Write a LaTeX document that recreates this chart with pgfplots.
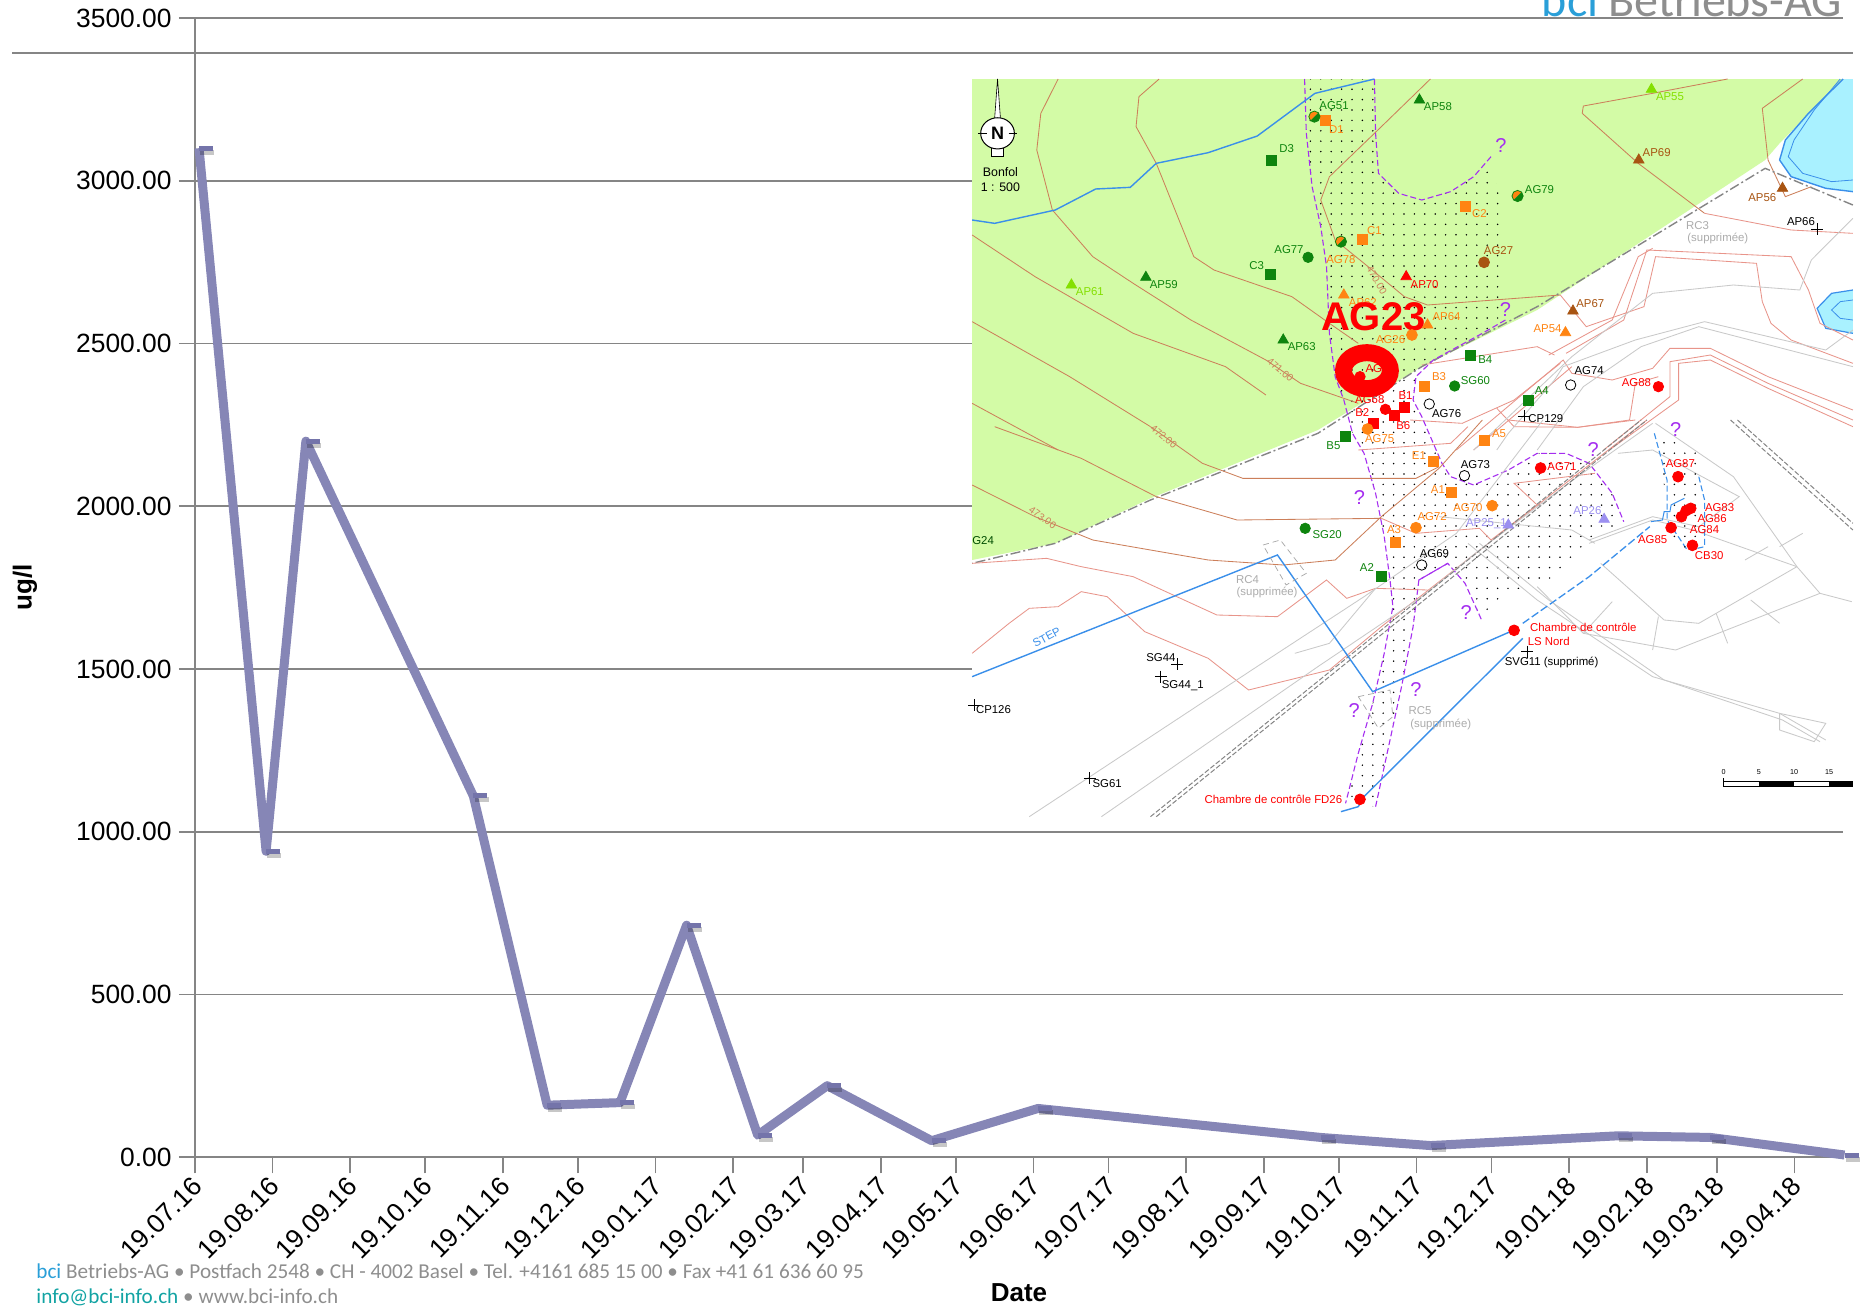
\documentclass[border=0pt]{standalone}
\usepackage{pgfplots}
\pgfplotsset{compat=1.18}
\usepackage{fontspec}
\setmainfont{Liberation Sans}
\newfontfamily\carlito{Carlito}
\usetikzlibrary{patterns.meta}
\definecolor{lin}{HTML}{8686B6}
\definecolor{lind}{HTML}{7474AA}
\definecolor{gr}{HTML}{858585}
\definecolor{grn}{HTML}{D3FBA6}
\definecolor{cb}{HTML}{CC7F5A}
\definecolor{sal}{HTML}{E8948A}
\definecolor{lg}{HTML}{C9C9C9}
\definecolor{bl}{HTML}{3A8FEA}
\definecolor{pu}{HTML}{A52EF0}
\definecolor{cy}{HTML}{A9F1FF}
\definecolor{dg}{HTML}{0E840E}
\definecolor{org}{HTML}{FF8412}
\definecolor{lgn}{HTML}{84E000}
\definecolor{bro}{HTML}{A85412}
\definecolor{lav}{HTML}{9C90F0}
\definecolor{bciblue}{HTML}{2A9FD8}
\definecolor{teal2}{HTML}{12A3A3}
\definecolor{foot}{HTML}{8E8E8E}
\pgfdeclareplotmark{rdash}{\pgfpathmoveto{\pgfqpoint{0pt}{0pt}}\pgfpathlineto{\pgfqpoint{7pt}{0pt}}\pgfusepathqstroke}
\newcommand{\ml}[4]{\node[text=#3,inner sep=0pt,font=\fontsize{5.7}{6}\selectfont] at (axis cs:#1,#2) {#4};}
\newcommand{\qm}[2]{\node[text=pu,inner sep=0pt,font=\fontsize{10}{10}\selectfont] at (axis cs:#1,#2) {?};}
\pgfplotsset{mapaxis/.style={at={(0pt,0pt)},anchor=south west,scale only axis,width=932.5pt,height=653pt,hide axis,clip=false,y dir=reverse,xmin=-1663.3,xmax=1568},
 sm/.style={only marks,mark=#1,mark size=2.1pt,mark options={solid}},
 cont/.style={cb,line width=.42pt,no markers},
 salm/.style={sal,line width=.42pt,no markers},
 lgr/.style={lg,line width=.42pt,no markers},
 pd/.style={pu,line width=.55pt,dash pattern=on 3pt off 1.5pt,no markers},
 blu/.style={bl,line width=.7pt,no markers}}
\begin{document}
\begin{tikzpicture}[x=1pt,y=1pt]
\useasboundingbox (0,0) rectangle (932.5,653);
\begin{axis}[at={(97.5pt,74.35pt)},anchor=south west,scale only axis,width=824pt,height=569.65pt,
 xmin=0,xmax=658.4,ymin=0,ymax=3500,clip=false,
 axis x line=bottom,axis y line=left,axis line style={-,gr,line width=.8pt},
 ytick={0,500,1000,1500,2000,2500,3000,3500},
 ymajorgrids,grid style={gr,line width=.8pt},
 xtick={0,31,62,92,123,153,184,215,243,274,304,335,365,396,427,457,488,518,549,580,608,639},
 xticklabels={19.07.16,19.08.16,19.09.16,19.10.16,19.11.16,19.12.16,19.01.17,19.02.17,19.03.17,19.04.17,19.05.17,19.06.17,19.07.17,19.08.17,19.09.17,19.10.17,19.11.17,19.12.17,19.01.18,19.02.18,19.03.18,19.04.18},
 major tick length=8pt,tick style={gr,line width=.8pt},
 every tick/.style={gr,line width=.8pt},
 tick align=outside,
 y tick label style={/pgf/number format/.cd,fixed,fixed zerofill,precision=2,1000 sep={},assume math mode=true,/tikz/.cd,font=\fontsize{13.2}{15}\selectfont,inner sep=0pt,xshift=-3.5pt},
 x tick label style={rotate=45,anchor=north east,font=\fontsize{13.2}{15}\selectfont,inner sep=0pt,yshift=1pt,xshift=-2pt},
 xlabel={\textbf{Date}},
 ylabel={\textbf{ug/l}},
 every axis x label/.style={at={(axis description cs:0.5,0)},anchor=center,yshift=-67.5pt,font=\fontsize{13}{15}\selectfont},
 every axis y label/.style={at={(axis description cs:0,0.5)},anchor=center,rotate=90,yshift=85pt,font=\fontsize{13}{15}\selectfont},
 ]
\addplot[only marks,mark=rdash,mark options={line width=2.5pt,black,opacity=.22},yshift=-2pt,xshift=.6pt,forget plot] table {
1.6 3100
28.4 940
44.3 2200
111.2 1110
140.7 160
169.8 168
196.4 713
224.8 68
252.6 220
294.3 51
336.8 150
449.7 61
493.6 36
568.5 66
605.4 61
659 7
};
\addplot[lin,line width=4.5pt,line join=round,no markers] table {
1.6 3100
28.4 940
44.3 2200
111.2 1110
140.7 160
169.8 168
196.4 713
224.8 68
252.6 220
294.3 51
336.8 150
449.7 61
493.6 36
568.5 66
605.4 61
659 7
};
\addplot[only marks,mark=rdash,mark options={line width=2.5pt,lind}] table {
1.6 3100
28.4 940
44.3 2200
111.2 1110
140.7 160
169.8 168
196.4 713
224.8 68
252.6 220
294.3 51
336.8 150
449.7 61
493.6 36
568.5 66
605.4 61
659 7
};
\end{axis}
% map, first system: crop coordinates of the upper part
\begin{axis}[mapaxis,ymin=0,ymax=3918]
\addplot[fill=white,draw=none] coordinates {(21,237)(1547,237)(1547,2450)(21,2450)} --cycle;
\addplot[fill=grn,draw=none] coordinates {(21,237)(1530,237)(1420,430)(1395,480)(1000,930)(800,1100)(620,1290)(330,1495)(165,1630)(21,1680)} --cycle;
\addplot[fill=cy,draw=none] coordinates {(1530,237)(1547,237)(1547,575)(1500,565)(1440,530)(1420,480)(1430,420)(1470,340)} --cycle;
\addplot[blu] coordinates {(1530,237)(1470,340)(1430,420)(1420,480)(1440,530)(1500,565)(1547,575)};
\addplot[blu,line width=.4pt] coordinates {(1525,237)(1480,330)(1445,420)(1435,470)(1460,520)(1510,545)(1547,540)};
\addplot[fill=cy,draw=bl,line width=.6pt] coordinates {(1547,870)(1510,880)(1485,925)(1500,985)(1547,1000)};
\addplot[fill=cy,draw=bl,line width=.4pt] coordinates {(1547,900)(1525,905)(1510,930)(1525,955)(1547,960)};
\addplot[pattern={Dots[distance=5.2pt,radius=.42pt]},draw=none] coordinates {(600,237)(718,237)(720,400)(725,520)(760,580)(800,600)(850,575)(890,530)(920,490)(945,640)(945,900)(940,960)(810,1095)(790,1140)(785,1200)(800,1250)(815,1310)(835,1390)(850,1430)(890,1455)(950,1410)(1000,1360)(1050,1360)(1090,1390)(1130,1480)(1150,1565)(1085,1630)(1030,1740)(960,1770)(905,1860)(875,1750)(845,1690)(795,1740)(785,1880)(765,2060)(740,2260)(720,2420)(668,2410)(690,2260)(715,2110)(735,1960)(750,1820)(745,1740)(735,1610)(720,1480)(700,1360)(680,1300)(665,1200)(650,1130)(640,1000)(635,800)(625,680)(610,560)(600,400)} --cycle;
\addplot[cont] coordinates {(170,237)(140,340)(133,450)(160,630)(230,770)(300,850)(400,960)(530,1080)(590,1150)(690,1210)};
\addplot[cont] coordinates {(345,237)(310,290)(305,380)(340,490)(405,770)(440,810)(575,890)(640,970)(690,1030)};
\addplot[cont] coordinates {(21,705)(130,830)(300,1000)(460,1100)(530,1185)};
\addplot[cont] coordinates {(21,965)(190,1130)(330,1280)};
\addplot[cont] coordinates {(21,1210)(170,1350)};
\addplot[cont] coordinates {(815,237)(730,380)(640,530)(625,600)(650,720)(700,790)(770,890)(810,915)(1040,885)};
\addplot[cont] coordinates {(1330,237)(1200,280)(1080,318)(1078,340)(1175,490)(1290,640)};
\addplot[cont] coordinates {(1460,237)(1390,325)(1400,480)(1430,590)(1475,560)};
\addplot[salm] coordinates {(1290,640)(1440,690)(1547,700)};
\addplot[salm] coordinates {(1040,885)(1085,980)(1185,920)(1205,770)(1380,790)(1390,905)(1405,970)(1440,1020)(1547,1090)};
\addplot[salm] coordinates {(1050,1060)(1150,960)(1190,750)(1440,770)(1470,870)(1490,970)(1547,1020)};
\addplot[salm] coordinates {(1020,1065)(1130,960)(1175,770)(1200,745)};
\addplot[salm] coordinates {(800,1095)(1000,1040)(1030,1065)};
\addplot[salm] coordinates {(860,1350)(1045,1080)(1060,1120)(1130,1140)(1200,1105)(1230,1045)(1300,1045)(1400,1130)(1547,1230)};
\addplot[salm] coordinates {(890,1350)(1060,1100)};
\addplot[salm] coordinates {(1115,1350)(1230,1190)(1230,1085)(1300,1065)(1400,1150)(1547,1260)};
\addplot[salm] coordinates {(1125,1350)(1245,1200)(1245,1090)(1300,1080)(1400,1165)(1547,1280)};
\addplot[salm] coordinates {(780,1260)(870,1270)(960,1200)(1040,1090)};
\addplot[salm] coordinates {(930,1225)(960,1280)(1070,1282)(1160,1260)(1170,1150)(1210,1130)};
\addplot[salm] coordinates {(690,1350)(850,1330)(880,1280)};
\addplot[lgr] coordinates {(1547,655)(1475,780)(1455,870)(1340,855)(1200,880)(1060,1070)(890,1350)};
\addplot[lgr] coordinates {(1547,990)(1500,1050)(1290,965)(1170,1020)(1045,1100)(1030,1140)(950,1300)(930,1350)};
\addplot[lgr] coordinates {(1547,1100)(1280,980)(1180,1040)(1080,1160)(1000,1350)};
\addplot[gr,line width=.7pt,dash pattern=on 5pt off 1.5pt on 1pt off 1.5pt,no markers] coordinates {(1547,615)(1395,505)(1000,920)(800,1100)(620,1300)(330,1500)(165,1630)(21,1690)};
\addplot[pd] coordinates {(597,237)(600,400)(610,560)(625,680)(635,800)(640,1000)(650,1130)(665,1200)(680,1300)(700,1360)(720,1480)(735,1610)(745,1740)(750,1820)(735,1960)(715,2110)(690,2260)(668,2410)};
\addplot[pd] coordinates {(718,237)(720,400)(725,520)(760,580)(800,600)(850,575)(890,530)(920,470)};
\addplot[pd] coordinates {(945,960)(905,1000)(820,1080)(790,1130)(785,1200)(800,1250)(815,1310)(835,1390)(850,1430)(890,1455)(950,1410)(1000,1360)(1050,1360)(1090,1390)(1130,1480)(1150,1565)};
\addplot[pd] coordinates {(720,2420)(740,2260)(765,2060)(785,1880)(795,1740)(845,1690)(875,1750)(905,1865)};
\addplot[blu] coordinates {(21,660)(60,670)(165,630)(235,567)(295,562)(340,490)(430,458)(515,408)(615,280)(718,237)};
% marks
\addplot[sm=square*,dg,mark size=2.5pt] coordinates {(540,480)(538,823)(885,1067)(984,1200)(668,1310)};
\addplot[sm=square*,org,mark size=2.5pt] coordinates {(633,360)(876,620)(698,718)(805,1160)(909,1322)};
\addplot[sm=square*,red,mark size=2.5pt] coordinates {(770,1222)(716,1270)(753,1245)};
\addplot[sm=triangle*,dg,mark size=3pt] coordinates {(796,300)(322,832)(560,1020)};
\addplot[sm=triangle*,lgn,mark size=3pt] coordinates {(1198,268)(193,855)};
\addplot[sm=triangle*,bro,mark size=3pt] coordinates {(1176,480)(1425,565)(1062,933)};
\addplot[sm=triangle*,org,mark size=3pt] coordinates {(1049,998)(810,975)(665,885)};
\addplot[sm=triangle*,red,mark size=3pt] coordinates {(773,830)};
\addplot[only marks,mark=halfcircle*,mark size=2.8pt,mark options={rotate=45,draw=dg,fill=org,mark color=dg}] coordinates {(614,350)(966,588)(660,725)};
\addplot[sm=*,dg,mark size=2.6pt] coordinates {(603,772)(857,1158)};
\addplot[sm=*,bro,mark size=2.7pt] coordinates {(908,787)};
\addplot[sm=*,org,mark size=2.7pt] coordinates {(783,1005)(706,1287)};
\addplot[sm=*,red,mark size=2.6pt] coordinates {(1210,1160)(737,1228)(693,1130)};
\addplot[only marks,mark=o,mark size=2.6pt,mark options={black,fill=white,line width=.4pt}] coordinates {(1058,1155)(813,1212)};
\addplot[only marks,mark=+,mark size=3pt,mark options={black,line width=.4pt}] coordinates {(1485,687)(977,1248)};
\ml{566}{447}{dg}{D3}\ml{514}{797}{dg}{C3}\ml{910}{1080}{dg}{B4}\ml{1008}{1172}{dg}{A4}\ml{648}{318}{dg}{AG51}
\ml{652}{390}{org}{D1}\ml{900}{640}{org}{C2}\ml{718}{693}{org}{C1}\ml{830}{1130}{org}{B3}\ml{934}{1302}{org}{A5}
\ml{772}{1188}{red}{B1}\ml{697}{1237}{red}{B2}\ml{768}{1278}{red}{B6}
\ml{828}{320}{dg}{AP58}\ml{353}{853}{dg}{AP59}\ml{592}{1040}{dg}{AP63}
\ml{1230}{290}{lgn}{AP55}\ml{225}{875}{lgn}{AP61}
\ml{1207}{457}{bro}{AP69}\ml{1390}{592}{bro}{AP56}\ml{1092}{910}{bro}{AP67}
\ml{1018}{987}{org}{AP54}\ml{843}{950}{org}{AP64}\ml{698}{908}{org}{AP62}
\ml{805}{853}{red}{AP70}
\ml{1004}{568}{dg}{AG79}\ml{660}{778}{org}{AG78}\ml{570}{748}{dg}{AG77}\ml{893}{1142}{dg}{SG60}
\ml{933}{752}{bro}{AG27}\ml{746}{1018}{org}{AG26}\ml{727}{1317}{org}{AG75}
\ml{1172}{1148}{red}{AG88}\ml{710}{1198}{red}{AG68}
\ml{1090}{1112}{black}{AG74}\ml{843}{1242}{black}{AG76}\ml{1457}{664}{black}{AP66}\ml{1015}{1257}{black}{CP129}
\ml{1278}{676}{lg!60!gray}{RC3}\ml{1313}{716}{lg!60!gray}{(supprimée)}
\node[text=cb,rotate=-40,inner sep=0pt,font=\fontsize{5}{6}\selectfont] at (axis cs:555,1110) {471.00};
\node[text=cb,rotate=-40,inner sep=0pt,font=\fontsize{5}{6}\selectfont] at (axis cs:353,1310) {472.00};
\node[text=cb,rotate=-60,inner sep=0pt,font=\fontsize{5}{6}\selectfont] at (axis cs:722,840) {470.00};
\qm{937}{437}\qm{945}{930}
\node[text=black,inner sep=0pt,font=\fontsize{6.2}{7}\selectfont] at (axis cs:70,515) {Bonfol};
\node[text=black,inner sep=0pt,font=\fontsize{6.2}{7}\selectfont] at (axis cs:70,562) {1 : 500};
\addplot[black,line width=.3pt,fill=white] coordinates {(60,355)(65,237)(70,355)};
\addplot[black,line width=.3pt,fill=white] coordinates {(55,445)(55,468)(75,468)(75,445)};
\addplot[only marks,mark=*,mark size=7.8pt,mark options={black,fill=white,line width=.5pt,xscale=1.08}] coordinates {(65,400)};
\addplot[only marks,mark=o,mark size=9pt,mark options={red,line width=8.5pt,xscale=1.3}] coordinates {(705,1112)};
\ml{717}{1105}{red}{AG}
\node[text=red,inner sep=0pt,font=\bfseries\fontsize{20}{20}\selectfont] at (axis cs:716,950) {AG23};
\end{axis}
% map, second system: crop coordinates of the lower part
\begin{axis}[mapaxis,ymin=-1260,ymax=2658]
\addplot[black,line width=.4pt,no markers] coordinates {(32,-860)(47,-860)};
\addplot[black,line width=.4pt,no markers] coordinates {(84,-860)(98,-860)};
\node[text=black,inner sep=.5pt,font=\bfseries\fontsize{9}{9}\selectfont] at (axis cs:65,-860) {N};
\addplot[cont] coordinates {(330,20)(420,130)(490,175)(790,175)(830,140)};
\addplot[cont] coordinates {(60,20)(210,115)(340,230)(480,300)(730,295)};
\addplot[cont] coordinates {(21,195)(130,290)(230,360)(430,420)(560,435)(650,420)(730,290)(830,145)(905,0)};
\addplot[salm] coordinates {(21,430)(150,415)(210,440)(300,470)(445,585)(550,590)(635,480)(670,535)(720,505)(810,510)};
\addplot[salm] coordinates {(21,700)(85,610)(120,565)(170,560)(210,515)(255,530)(320,635)(430,715)(500,810)(640,750)(730,620)(1190,0)};
\addplot[salm] coordinates {(730,295)(790,340)(900,325)(920,360)(1000,255)(960,190)(1100,160)};
\addplot[salm] coordinates {(950,0)(1070,22)(1170,0)};
\addplot[lgr] coordinates {(120,1190)(510,745)(700,530)(860,340)(1010,0)};
\addplot[lgr] coordinates {(245,1190)(620,740)(800,530)(900,390)(1070,170)(1200,10)};
\addplot[lgr] coordinates {(580,700)(640,670)(720,505)};
\addplot[lgr] coordinates {(880,370)(1000,540)(1200,770)(1420,880)(1500,960)};
\addplot[lgr] coordinates {(900,370)(1020,540)(1220,780)(1425,900)(1490,965)};
\addplot[lgr] coordinates {(1090,370)(1200,300)(1270,330)(1450,440)(1490,520)(1545,545)};
\addplot[lgr] coordinates {(1090,360)(1200,290)(1280,320)(1350,230)(1200,90)(1140,100)};
\addplot[lgr] coordinates {(1110,430)(1220,600)(1280,610)(1450,440)};
\addplot[lgr] coordinates {(1205,10)(1340,170)(1450,440)};
\addplot[lgr] coordinates {(1000,500)(1080,640)(1240,690)(1490,520)};
\addplot[lgr] coordinates {(1420,880)(1500,910)(1480,965)(1420,930)(1420,880)};
\addplot[lgr] coordinates {(830,290)(1060,330)(1100,370)};
\addplot[lgr] coordinates {(1200,690)(1210,590)};\addplot[lgr] coordinates {(1080,640)(1130,545)};\addplot[lgr] coordinates {(1330,670)(1310,580)};
\addplot[lgr] coordinates {(1420,610)(1370,540)};\addplot[lgr] coordinates {(1400,380)(1360,420)};\addplot[lgr] coordinates {(1460,340)(1420,380)};
% railway
\addplot[gr,line width=.5pt,dash pattern=on 2.5pt off 1pt,no markers] coordinates {(330,1190)(1180,0)};
\addplot[gr,line width=.5pt,dash pattern=on 2.5pt off 1pt,no markers] coordinates {(340,1190)(1190,0)};
\addplot[gr,line width=.5pt,dash pattern=on 2.5pt off 1pt,no markers] coordinates {(1335,0)(1547,330)};
\addplot[gr,line width=.5pt,dash pattern=on 2.5pt off 1pt,no markers] coordinates {(1347,0)(1547,310)};
\addplot[pd] coordinates {(795,480)(845,430)};
\addplot[bl,line width=.55pt,dash pattern=on 3pt off 1.5pt,no markers] coordinates {(1203,40)(1225,180)(1225,300)(1260,390)};
\addplot[bl,line width=.55pt,dash pattern=on 3pt off 1.5pt,no markers] coordinates {(1280,170)(1290,240)(1290,380)(1265,390)};
\addplot[pattern={Dots[distance=5.2pt,radius=.42pt]},draw=none] coordinates {(1205,30)(1275,90)(1290,240)(1290,380)(1260,390)(1230,340)(1220,200)} --cycle;
\addplot[blu] coordinates {(21,770)(550,405)(715,815)(960,630)};
\addplot[blu] coordinates {(975,655)(700,1130)(690,1160)(660,1175)};
\addplot[bl,line width=.65pt,dash pattern=on 4pt off 1.5pt,no markers] coordinates {(975,610)(1090,470)(1195,320)};
\addplot[blu,line width=.5pt] coordinates {(1197,305)(1217,300)(1220,275)(1230,275)(1232,255)(1255,235)};
\addplot[gray!70,densely dashed,line width=.35pt,no markers] coordinates {(525,375)(555,360)(600,460)(565,495)} --cycle;
\addplot[gray!70,densely dashed,line width=.35pt,no markers] coordinates {(690,830)(745,810)(750,890)(725,925)} --cycle;
\addplot[sm=square*,dg,mark size=2.5pt] coordinates {(730,470)};
\addplot[sm=square*,org,mark size=2.5pt] coordinates {(820,123)(852,217)(755,368)};
\addplot[sm=triangle*,lav,mark size=3pt] coordinates {(950,315)(1116,298)};
\addplot[sm=*,dg,mark size=2.6pt] coordinates {(598,325)};
\addplot[sm=*,org,mark size=2.7pt] coordinates {(790,323)(922,257)};
\addplot[sm=*,red,mark size=2.7pt] coordinates {(1006,144)(1244,170)(1266,265)(1258,272)(1250,290)(1232,323)(1269,376)(693,1138)(960,631)};
\addplot[only marks,mark=o,mark size=2.6pt,mark options={black,fill=white,line width=.4pt}] coordinates {(874,167)(800,435)};
\addplot[only marks,mark=+,mark size=3pt,mark options={black,line width=.4pt}] coordinates {(376,733)(348,770)(25,855)(225,1074)(983,695)};
\ml{647}{78}{dg}{B5}\ml{795}{107}{org}{E1}\ml{828}{210}{org}{A1}\ml{752}{330}{org}{A3}\ml{705}{442}{dg}{A2}
\ml{912}{312}{lav}{AP25\_1}\ml{1087}{273}{lav}{AP26}
\ml{636}{345}{dg}{SG20}\ml{818}{290}{org}{AG72}\ml{880}{263}{org}{AG70}
\ml{1043}{140}{red}{AG71}\ml{1248}{132}{red}{AG87}\ml{1316}{262}{red}{AG83}\ml{1303}{295}{red}{AG86}\ml{1290}{328}{red}{AG84}\ml{1200}{358}{red}{AG85}\ml{1298}{408}{red}{CB30}
\ml{893}{135}{black}{AG73}\ml{822}{400}{black}{AG69}
\ml{348}{712}{black}{SG44}\ml{386}{797}{black}{SG44\_1}\ml{58}{868}{black}{CP126}\ml{255}{1090}{black}{SG61}\ml{1025}{728}{black}{SVG11 (supprimé)}
\ml{1080}{623}{red}{Chambre de contrôle}\ml{1020}{665}{red}{LS Nord}\ml{543}{1138}{red}{Chambre de contrôle FD26}
\ml{40}{363}{black!70!green}{G24}
\ml{498}{478}{lg!60!gray}{RC4}\ml{532}{518}{lg!60!gray}{(supprimée)}\ml{797}{873}{lg!60!gray}{RC5}\ml{833}{912}{lg!60!gray}{(supprimée)}
\node[text=bl,rotate=28,inner sep=0pt,font=\fontsize{5.7}{6}\selectfont] at (axis cs:150,652) {STEP};
\node[text=cb,rotate=-35,inner sep=0pt,font=\fontsize{5}{6}\selectfont] at (axis cs:143,293) {473.00};
\qm{692}{232}\qm{1097}{90}\qm{1240}{30}\qm{877}{578}\qm{790}{810}\qm{683}{873}
\addplot[black,line width=.3pt,no markers] coordinates {(1323,1075)(1323,1100)(1547,1100)};
\addplot[black,line width=.3pt,no markers] coordinates {(1323,1085)(1547,1085)};
\addplot[black,line width=2.4pt,no markers] coordinates {(1384,1092)(1445,1092)};
\addplot[black,line width=2.4pt,no markers] coordinates {(1506,1092)(1547,1092)};
\node[text=black,inner sep=0pt,font=\fontsize{3.6}{4}\selectfont] at (axis cs:1323,1057) {0};
\node[text=black,inner sep=0pt,font=\fontsize{3.6}{4}\selectfont] at (axis cs:1384,1057) {5};
\node[text=black,inner sep=0pt,font=\fontsize{3.6}{4}\selectfont] at (axis cs:1445,1057) {10};
\node[text=black,inner sep=0pt,font=\fontsize{3.6}{4}\selectfont] at (axis cs:1506,1057) {15};
\end{axis}
% letterhead and footer
\draw[gr,line width=.95pt] (6,626.6) -- (926.5,626.6);
\node[anchor=base west,inner sep=0pt,font=\carlito\fontsize{24}{24}\selectfont,text=bciblue] at (770.7,644.5) {bci};
\node[anchor=base west,inner sep=0pt,font=\carlito\fontsize{24}{24}\selectfont,text=foot] at (804,644.5) {Betriebs-AG};
\node[anchor=base west,inner sep=0pt,font=\carlito\fontsize{10.6}{12}\selectfont,text=foot] at (18,13.5) {\textcolor{bciblue}{bci} Betriebs-AG • Postfach 2548 • CH - 4002 Basel • Tel. +4161 685 15 00 • Fax +41 61 636 60 95};
\node[anchor=base west,inner sep=0pt,font=\carlito\fontsize{10.6}{12}\selectfont,text=foot] at (18,1) {\textcolor{teal2}{info@bci-info.ch} • www.bci-info.ch};
\end{tikzpicture}
\end{document}
